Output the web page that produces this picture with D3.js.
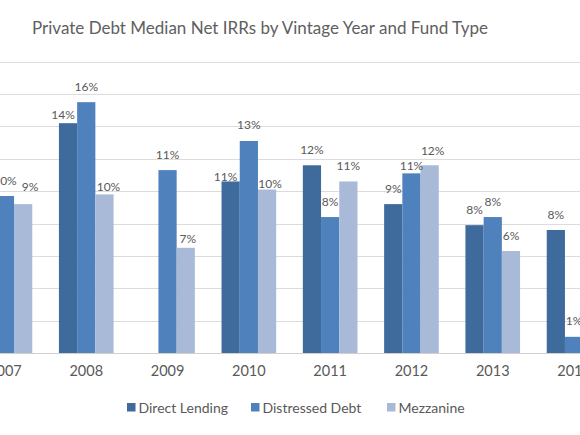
<!DOCTYPE html>
<html>
<head>
<meta charset="utf-8">
<script src="https://cdn.jsdelivr.net/npm/d3@7"></script>
<style>
  html, body { margin: 0; padding: 0; background: #fff; }
  svg { display: block; font-family: Lato, "Open Sans", sans-serif; }
</style>
</head>
<body>
<svg id="chart" width="580" height="435"></svg>
<script>
const years = ["2007", "2008", "2009", "2010", "2011", "2012", "2013", "2014"];
const directLending = [null, 14.2, null, 10.6, 11.6, 9.2, 7.9, 7.6];
const distressedDebt = [9.7, 15.5, 11.3, 13.1, 8.4, 11.1, 8.4, 1.0];
const mezzanine = [9.2, 9.8, 6.5, 10.1, 10.6, 11.6, 6.3, null];
const seriesNames = ["Direct Lending", "Distressed Debt", "Mezzanine"];
const yTicks = [0, 2, 4, 6, 8, 10, 12, 14, 16, 18];

const colors = ["#3f6a9c", "#4f81bd", "#a9b9d8"];

// label nudges (Excel moved a few labels to avoid crowding)
const nudge = {
  "Direct Lending|2008": [-5, 7],
  "Mezzanine|2008": [4, 8],
  "Mezzanine|2009": [2, 7],
  "Mezzanine|2007": [7, -2],
  "Direct Lending|2010": [-5, 11],
  "Mezzanine|2010": [3, 10],
  "Distressed Debt|2012": [0, 8],
  "Mezzanine|2012": [3, 1],
};

const svg = d3.select("#chart");
const width = 580;

const x = d3.scaleBand()
  .domain(years)
  .range([-35.7, 614.7])
  .paddingInner(0.328)
  .paddingOuter(0.164);

const xs = d3.scaleBand()
  .domain(seriesNames)
  .range([0, x.bandwidth()]);

const y = d3.scaleLinear().domain([0, 18]).range([353, 61.7]);

// title
svg.append("text")
  .attr("x", 260)
  .attr("y", 34)
  .attr("text-anchor", "middle")
  .attr("fill", "#606060")
  .style("font-size", "17px")
  .text("Private Debt Median Net IRRs by Vintage Year and Fund Type");

// gridlines
svg.append("g")
  .selectAll("line")
  .data(yTicks)
  .join("line")
  .attr("x1", 0)
  .attr("x2", width)
  .attr("y1", (d) => Math.round(y(d)) + 0.5)
  .attr("y2", (d) => Math.round(y(d)) + 0.5)
  .attr("stroke", (d) => (d === 0 ? "#d0d0d0" : "#dcdcdc"))
  .attr("stroke-width", 1.2);

const rows = [];
const seriesData = [directLending, distressedDebt, mezzanine];
seriesNames.forEach((s, si) => {
  years.forEach((yr, i) => {
    const v = seriesData[si][i];
    if (v != null) rows.push({ series: s, si, year: yr, value: v });
  });
});

// bars
svg.append("g")
  .selectAll("rect")
  .data(rows)
  .join("rect")
  .attr("x", (d) => x(d.year) + xs(d.series))
  .attr("width", xs.bandwidth())
  .attr("y", (d) => y(d.value))
  .attr("height", (d) => y(0) - y(d.value))
  .attr("fill", (d) => colors[d.si]);

// data labels
svg.append("g")
  .selectAll("text")
  .data(rows)
  .join("text")
  .attr("x", (d) => {
    const n = nudge[d.series + "|" + d.year] || [0, 0];
    return x(d.year) + xs(d.series) + xs.bandwidth() / 2 + n[0];
  })
  .attr("y", (d) => {
    const n = nudge[d.series + "|" + d.year] || [0, 0];
    return y(d.value) - 11.5 + n[1];
  })
  .attr("text-anchor", "middle")
  .attr("fill", "#595959")
  .style("font-size", "12px")
  .text((d) => Math.round(d.value) + "%");

// x axis labels
const xAxis = d3.axisBottom(x).tickSize(0).tickPadding(0);
const gx = svg.append("g")
  .attr("transform", "translate(0,366)")
  .call(xAxis);
gx.select(".domain").remove();
gx.selectAll("text")
  .attr("dy", "0.71em")
  .attr("fill", "#595959")
  .style("font-size", "14.5px")
  .style("font-family", "Lato, 'Open Sans', sans-serif");

// legend
const legendX = [127, 251, 387];
const legend = svg.append("g")
  .selectAll("g")
  .data(seriesNames)
  .join("g")
  .attr("transform", (d, i) => `translate(${legendX[i]},403)`);
legend.append("rect")
  .attr("width", 8.5)
  .attr("height", 8.5)
  .attr("fill", (d, i) => colors[i]);
legend.append("text")
  .attr("x", 11.5)
  .attr("y", 9.5)
  .attr("fill", "#595959")
  .style("font-size", "14px")
  .text((d) => d);
</script>
</body>
</html>
